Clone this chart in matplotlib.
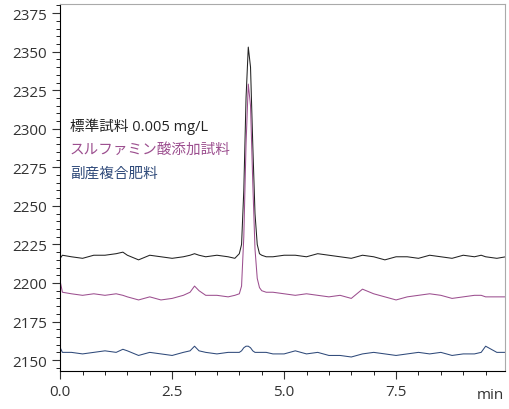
import matplotlib
matplotlib.use("Agg")
import matplotlib.pyplot as plt
from matplotlib.ticker import MultipleLocator

plt.rcParams['font.family'] = ['Open Sans', 'Noto Sans CJK JP', 'DejaVu Sans']

time = [0.0,0.05,0.25,0.5,0.75,1.0,1.25,1.4,1.5,1.75,2.0,2.25,2.5,2.75,2.9,3.0,3.1,3.25,3.5,3.75,3.9,4.0,4.05,4.1,4.15,4.2,4.25,4.3,4.35,4.4,4.45,4.5,4.6,4.75,5.0,5.25,5.5,5.75,6.0,6.25,6.5,6.75,7.0,7.25,7.5,7.75,8.0,8.25,8.5,8.75,9.0,9.25,9.4,9.5,9.75,9.95]
std = [2216,2218,2217,2216,2218,2218,2219,2220,2218,2215,2218,2217,2216,2217,2218,2219,2218,2217,2218,2217,2216,2219,2225,2260,2320,2353,2340,2290,2245,2225,2219,2218,2217,2217,2218,2218,2217,2219,2218,2217,2216,2218,2217,2215,2217,2217,2216,2218,2217,2216,2218,2217,2218,2217,2216,2217]
sulf = [2201,2194,2193,2192,2193,2192,2193,2192,2191,2189,2191,2189,2190,2192,2194,2198,2195,2192,2192,2191,2192,2193,2198,2230,2290,2329,2315,2265,2222,2203,2197,2195,2194,2194,2193,2192,2193,2192,2191,2192,2190,2196,2193,2191,2189,2191,2192,2193,2192,2190,2191,2192,2192,2191,2191,2191]
bypr = [2158,2155,2155,2154,2155,2156,2155,2157,2156,2153,2155,2154,2153,2155,2156,2159,2156,2155,2154,2155,2155,2155,2156,2158,2159,2159,2158,2156,2155,2155,2155,2155,2155,2154,2154,2156,2154,2155,2153,2153,2152,2154,2155,2154,2153,2154,2155,2154,2155,2153,2154,2154,2155,2159,2155,2155]

labels = ['標準試料 0.005 mg/L', 'スルファミン酸添加試料', '副産複合肥料']
colors = ['#222222', '#9c4f8f', '#2f4a7a']

fig = plt.figure(figsize=(5.1, 4.1), dpi=100)
ax = fig.add_axes([0.118, 0.093, 0.872, 0.895])
for y, c in zip([std, sulf, bypr], colors):
    ax.plot(time, y, color=c, lw=0.75)
ax.set_xlim(0, 9.93)
ax.set_ylim(2143, 2381)
ax.xaxis.set_major_locator(MultipleLocator(2.5))
ax.xaxis.set_minor_locator(MultipleLocator(0.5))
ax.yaxis.set_major_locator(MultipleLocator(25))
ax.yaxis.set_minor_locator(MultipleLocator(5))
ax.set_xticks([0, 2.5, 5.0, 7.5])
ax.set_xticklabels(['0.0', '2.5', '5.0', '7.5'])
ax.tick_params(labelsize=11, colors='#333333', length=6)
ax.tick_params(which='minor', length=3)
for s in ['top', 'right']:
    ax.spines[s].set_color('#aaaaaa')
ax.text(9.6, -0.065, 'min', transform=ax.get_xaxis_transform(), ha='center', va='center', fontsize=11, color='#333333')
for i, (l, c) in enumerate(zip(labels, colors)):
    ax.text(0.22, 2302 - i*15.5, l, color=c, fontsize=10.5, va='center')
fig.savefig('out.png')
